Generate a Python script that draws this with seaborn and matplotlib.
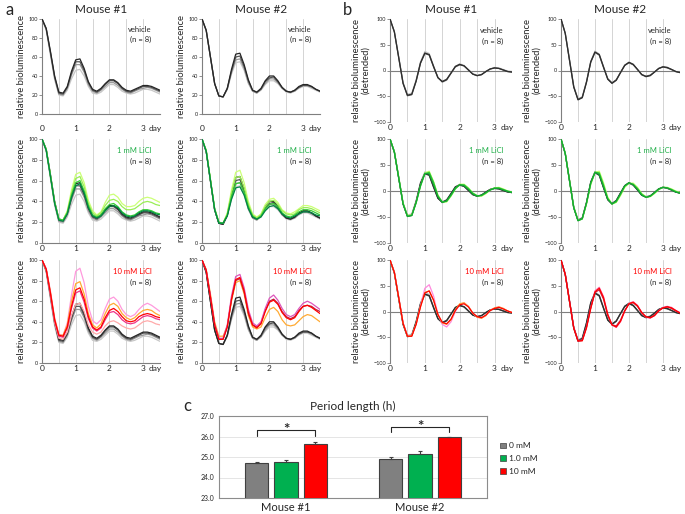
import numpy as np
import pandas as pd
import seaborn as sns
import matplotlib.pyplot as plt
from matplotlib.patches import Patch

# time axis: one sample every 3 h (1/8 day), 0 .. 3.5 days
days = np.arange(29) / 8

# ---- raw bioluminescence (panel a), listed light -> dark ----
m1_veh_raw = [
    [100, 88, 62, 36, 20, 19, 25, 37, 46, 47, 40, 29, 22, 21, 23, 27, 31, 31, 28, 24, 22, 21, 22, 24, 26, 26, 25, 23, 21],
    [100, 89, 64, 38, 21, 20, 27, 41, 52, 52, 44, 31, 24, 22, 25, 29, 33, 33, 30, 26, 23, 22, 24, 26, 27, 28, 27, 25, 23],
    [100, 90, 65, 39, 22, 21, 28, 43, 55, 55, 46, 33, 25, 23, 26, 31, 35, 35, 32, 27, 24, 23, 25, 27, 29, 29, 28, 26, 24],
    [100, 90, 66, 40, 23, 22, 29, 45, 57, 58, 48, 34, 26, 24, 27, 32, 36, 36, 33, 28, 25, 24, 26, 28, 30, 30, 29, 27, 25],
]
m2_veh_raw = [
    [100, 88, 60, 32, 19, 18, 26, 42, 54, 55, 46, 32, 24, 22, 25, 31, 35, 35, 32, 27, 23, 22, 24, 27, 29, 29, 27, 25, 23],
    [100, 88, 60, 32, 19, 18, 26, 44, 57, 58, 48, 33, 24, 22, 26, 32, 37, 37, 33, 27, 24, 23, 24, 28, 30, 30, 28, 26, 24],
    [100, 88, 60, 32, 19, 18, 27, 45, 60, 61, 50, 35, 25, 23, 26, 34, 38, 39, 34, 28, 24, 23, 25, 28, 30, 30, 29, 26, 24],
    [100, 88, 60, 32, 19, 18, 27, 47, 63, 64, 52, 36, 25, 23, 27, 35, 40, 40, 35, 28, 24, 23, 25, 29, 31, 31, 29, 26, 24],
]
m1_li1_raw = [
    [100, 90, 65, 39, 23, 22, 31, 51, 66, 68, 58, 41, 31, 27, 30, 39, 46, 47, 44, 38, 35, 35, 36, 40, 43, 44, 43, 41, 39],
    [100, 90, 65, 39, 23, 22, 30, 48, 62, 64, 54, 38, 29, 26, 29, 36, 41, 42, 40, 35, 32, 32, 33, 36, 39, 40, 39, 37, 36],
    [100, 90, 65, 39, 23, 22, 29, 46, 58, 60, 50, 36, 27, 25, 27, 33, 37, 38, 35, 30, 27, 26, 27, 30, 32, 32, 31, 29, 28],
    [100, 89, 64, 38, 22, 21, 28, 44, 55, 57, 48, 34, 26, 24, 26, 31, 35, 36, 34, 29, 26, 25, 26, 29, 31, 31, 30, 28, 27],
]
m2_li1_raw = [
    [100, 89, 61, 33, 20, 19, 29, 51, 68, 70, 58, 40, 28, 25, 28, 37, 42, 43, 39, 32, 29, 28, 30, 33, 36, 36, 35, 33, 31],
    [100, 89, 61, 33, 20, 19, 28, 48, 63, 64, 53, 37, 27, 24, 27, 35, 40, 41, 37, 31, 28, 27, 28, 32, 34, 34, 33, 31, 29],
    [100, 89, 61, 33, 20, 19, 27, 45, 57, 58, 49, 35, 26, 23, 26, 33, 37, 38, 35, 29, 26, 25, 27, 30, 32, 32, 31, 29, 27],
    [100, 88, 60, 32, 19, 19, 26, 42, 53, 54, 46, 33, 25, 23, 25, 31, 35, 36, 33, 28, 25, 24, 26, 28, 30, 30, 29, 27, 26],
]
m1_li10_raw = [
    [100, 90, 65, 39, 24, 23, 30, 46, 57, 58, 50, 37, 30, 28, 30, 36, 40, 41, 39, 36, 34, 33, 34, 37, 40, 41, 40, 38, 37],
    [100, 92, 70, 44, 28, 27, 39, 66, 89, 92, 78, 55, 41, 38, 42, 53, 62, 64, 60, 52, 47, 45, 47, 52, 56, 58, 56, 53, 50],
    [100, 91, 69, 43, 27, 27, 37, 60, 77, 79, 67, 48, 37, 34, 38, 48, 56, 58, 55, 48, 44, 42, 44, 48, 51, 52, 51, 48, 46],
    [100, 91, 67, 41, 26, 25, 34, 53, 68, 70, 59, 43, 34, 31, 34, 42, 49, 50, 47, 42, 39, 38, 39, 42, 45, 46, 45, 43, 42],
    [100, 91, 68, 42, 27, 26, 35, 55, 71, 73, 62, 45, 35, 32, 35, 44, 51, 53, 50, 45, 41, 40, 41, 45, 47, 48, 47, 45, 44],
]
m2_li10_raw = [
    [100, 91, 67, 40, 26, 26, 36, 60, 78, 80, 67, 46, 35, 33, 35, 44, 52, 54, 50, 42, 37, 36, 37, 41, 45, 47, 46, 43, 40],
    [100, 90, 64, 37, 23, 23, 35, 62, 80, 82, 69, 48, 37, 35, 39, 51, 60, 62, 58, 50, 45, 43, 45, 51, 55, 56, 55, 52, 50],
    [100, 90, 65, 38, 24, 24, 37, 65, 84, 86, 73, 52, 39, 36, 40, 53, 63, 66, 61, 53, 47, 45, 47, 53, 58, 60, 58, 55, 52],
    [100, 90, 64, 37, 23, 23, 35, 62, 81, 83, 70, 49, 37, 34, 38, 50, 59, 61, 57, 49, 44, 42, 44, 50, 55, 56, 54, 51, 48],
]

# ---- detrended bioluminescence (panel b) ----
m1_veh_det = [
    [100, 76, 27, -23, -46, -44, -18, 17, 37, 33, 9, -13, -23, -19, -6, 8, 13, 10, 2, -6, -9, -8, -2, 3, 6, 5, 2, -1, -2],
    [100, 75, 25, -25, -49, -47, -21, 14, 33, 30, 7, -14, -21, -17, -5, 7, 11, 9, 1, -7, -10, -8, -2, 3, 5, 4, 1, -2, -3],
    [100, 75, 25, -25, -48, -46, -20, 15, 34, 31, 8, -14, -22, -18, -5, 8, 12, 9, 1, -7, -10, -8, -2, 3, 5, 4, 1, -2, -3],
]
m2_veh_det = [
    [100, 73, 22, -30, -55, -51, -21, 18, 38, 32, 8, -16, -25, -19, -4, 11, 16, 12, 2, -8, -12, -10, -3, 4, 8, 6, 2, -2, -4],
    [100, 72, 20, -32, -56, -52, -22, 16, 35, 30, 6, -16, -24, -18, -4, 10, 15, 11, 2, -8, -11, -9, -3, 4, 7, 5, 2, -2, -4],
    [100, 72, 20, -32, -57, -53, -23, 17, 36, 31, 7, -17, -25, -19, -4, 10, 16, 12, 2, -8, -12, -10, -3, 4, 7, 6, 2, -2, -4],
]
m1_li1_det = [
    [100, 76, 27, -23, -47, -46, -22, 10, 35, 38, 18, -8, -21, -21, -10, 4, 13, 13, 6, -4, -9, -10, -5, 2, 6, 7, 4, 0, -2],
    [100, 75, 26, -24, -48, -47, -23, 9, 33, 36, 17, -9, -21, -20, -9, 4, 12, 12, 5, -4, -9, -9, -4, 2, 6, 6, 3, 0, -2],
    [100, 75, 25, -25, -49, -47, -22, 11, 34, 33, 12, -11, -22, -19, -7, 6, 12, 10, 3, -6, -10, -8, -3, 2, 5, 5, 2, -1, -3],
]
m2_li1_det = [
    [100, 73, 21, -31, -56, -54, -25, 12, 36, 38, 16, -12, -25, -22, -9, 7, 15, 15, 7, -5, -11, -11, -5, 3, 7, 7, 4, 0, -3],
    [100, 72, 20, -32, -57, -54, -24, 14, 36, 35, 12, -14, -25, -21, -7, 9, 15, 13, 5, -6, -12, -10, -4, 3, 7, 6, 3, -1, -4],
    [100, 72, 20, -32, -57, -53, -23, 16, 36, 32, 8, -16, -25, -19, -5, 10, 16, 12, 3, -8, -12, -10, -3, 4, 7, 6, 2, -2, -4],
]
m1_li10_det = [
    [100, 77, 28, -22, -47, -47, -25, 12, 45, 52, 30, -5, -25, -30, -20, 0, 14, 17, 10, -3, -11, -13, -8, 2, 7, 9, 6, 1, -2],
    [100, 76, 27, -23, -48, -47, -24, 10, 37, 40, 22, -6, -22, -25, -16, 3, 15, 17, 10, -3, -11, -13, -8, 2, 7, 9, 6, 1, -2],
    [100, 76, 27, -23, -48, -48, -25, 9, 36, 40, 22, -6, -21, -24, -15, 2, 13, 15, 9, -3, -10, -12, -7, 2, 6, 8, 5, 1, -2],
]
m2_li10_det = [
    [100, 73, 21, -31, -56, -56, -30, 8, 40, 47, 29, -5, -26, -31, -20, 1, 16, 19, 12, -2, -11, -13, -8, 2, 8, 10, 8, 2, -2],
    [100, 72, 20, -32, -58, -56, -30, 7, 37, 42, 24, -8, -26, -28, -17, 2, 15, 17, 10, -3, -11, -12, -7, 2, 7, 9, 6, 1, -3],
    [100, 72, 20, -32, -57, -57, -32, 6, 38, 45, 27, -6, -26, -30, -19, 1, 15, 18, 11, -2, -10, -12, -8, 1, 7, 9, 7, 2, -3],
]

# ---- period length (panel c) ----
mice = ["Mouse #1", "Mouse #1", "Mouse #1", "Mouse #2", "Mouse #2", "Mouse #2"]
doses = ["0 mM", "1.0 mM", "10 mM", "0 mM", "1.0 mM", "10 mM"]
period_mean = [24.73, 24.78, 25.65, 24.92, 25.15, 25.98]
period_err = [0.02, 0.05, 0.10, 0.08, 0.15, 0.02]
bracket_top = [26.32, 26.46]
bracket_foot = [26.03, 26.20]

# colours
veh_raw_cols = ["#c8c8c8", "#999999", "#555555", "#262626"]
veh_det_cols = ["#c8c8c8", "#555555", "#2e2e2e"]
li1_raw_cols = ["#ccff77", "#99ee55", "#33cc33", "#008844"]
li1_det_cols = ["#bbff66", "#33cc33", "#11aa33"]
m1_li10_raw_cols = ["#ffaaaa", "#ff99dd", "#ffaa33", "#ee3388", "#ff0000"]
m2_li10_raw_cols = ["#ffaa33", "#bb2244", "#dd55bb", "#ff0000"]
m1_li10_det_cols = ["#ff88dd", "#ffaa33", "#ff0000"]
m2_li10_det_cols = ["#ff66aa", "#cc2244", "#ff0000"]
bar_cols = {"0 mM": "#808080", "1.0 mM": "#00b050", "10 mM": "#ff0000"}

sns.set_theme(style="white")
plt.rcParams["font.family"] = ["Lato", "DejaVu Sans"]

W, H = 685, 514
fig = plt.figure(figsize=(W / 100, H / 100), dpi=100)


def px_axes(l, t, r, b):
    return fig.add_axes([l / W, 1 - b / H, (r - l) / W, (b - t) / H])


cols_x = [(42, 160), (202, 320), (390, 512), (561, 680)]
rows_y_raw = [(19, 114), (139, 243), (260, 363)]
rows_y_det = [(19, 122), (139, 243), (260, 363)]

tags = [("vehicle", "#262626"), ("1 mM LiCl", "#22b04a"), ("10 mM LiCl", "#ff0000")]

groups = {
    ("raw", 0): [[(m1_veh_raw, veh_raw_cols)],
                 [(m1_veh_raw, veh_raw_cols), (m1_li1_raw, li1_raw_cols)],
                 [(m1_veh_raw, veh_raw_cols), (m1_li10_raw, m1_li10_raw_cols)]],
    ("raw", 1): [[(m2_veh_raw, veh_raw_cols)],
                 [(m2_veh_raw, veh_raw_cols), (m2_li1_raw, li1_raw_cols)],
                 [(m2_veh_raw, veh_raw_cols), (m2_li10_raw, m2_li10_raw_cols)]],
    ("det", 0): [[(m1_veh_det, veh_det_cols)],
                 [(m1_veh_det, veh_det_cols), (m1_li1_det, li1_det_cols)],
                 [(m1_veh_det, veh_det_cols), (m1_li10_det, m1_li10_det_cols)]],
    ("det", 1): [[(m2_veh_det, veh_det_cols)],
                 [(m2_veh_det, veh_det_cols), (m2_li1_det, li1_det_cols)],
                 [(m2_veh_det, veh_det_cols), (m2_li10_det, m2_li10_det_cols)]],
}

half_days = np.arange(8) / 2
half_labels = ["0", "", "1", "", "2", "", "3", ""]

for ci, (kind, mouse) in enumerate([("raw", 0), ("raw", 1), ("det", 0), ("det", 1)]):
    l, r = cols_x[ci]
    for ri in range(3):
        t, b = (rows_y_raw if kind == "raw" else rows_y_det)[ri]
        ax = px_axes(l, t, r, b)
        for traces, colors in groups[(kind, mouse)][ri]:
            for tr, c in zip(traces, colors):
                sns.lineplot(x=days, y=tr, color=c, lw=0.9, ax=ax, zorder=3)
        ax.set_xlim(0, 3.5)
        if kind == "raw":
            ax.set_ylim(0, 100)
            ax.set_yticks(range(0, 101, 20))
            ax.set_ylabel("relative bioluminescence", fontsize=6.8, labelpad=2)
            ax.spines["bottom"].set_color("#7f7f7f")
        else:
            ax.set_ylim(-100, 100)
            ax.set_yticks([-100, -50, 0, 50, 100])
            ax.axhline(0, color="#7f7f7f", lw=0.8, zorder=2)
            ax.set_ylabel("relative bioluminescence\n(detrended)", fontsize=6.8,
                          labelpad=2, linespacing=1.1)
            ax.spines["bottom"].set_visible(False)
        # grid every half day, labels every day, "day" unit as a minor label
        ax.set_xticks(half_days, half_labels)
        ax.set_xticks([3.35], ["day"], minor=True)
        ax.grid(True, which="major", axis="x", color="#d4d4d4", lw=0.7)
        ax.grid(False, which="major", axis="y")
        xpad = 8 if (kind == "raw" and ri == 0) else 1.5
        ax.tick_params(axis="x", which="both", length=0, labelsize=6, pad=xpad)
        ax.tick_params(axis="y", length=2, width=0.6, labelsize=4, pad=1,
                       color="#7f7f7f", left=True)
        for s in ["top", "right"]:
            ax.spines[s].set_visible(False)
        ax.spines["left"].set_color("#7f7f7f")
        ax.spines["left"].set_linewidth(0.8)
        ax.spines["bottom"].set_linewidth(0.8)
        ax.yaxis.label.set_color("#262626")
        tag, tag_col = tags[ri]
        ax.text(0.93, 0.89, tag, color=tag_col, fontsize=5.5, ha="right",
                va="center", transform=ax.transAxes)
        ax.text(0.93, 0.78, "(n = 8)", color="#262626", fontsize=5.5, ha="right",
                va="center", transform=ax.transAxes)
        if ri == 0:
            ax.set_title(f"Mouse #{mouse + 1}", fontsize=8.5, pad=4)

fig.text(5 / W, 1 - 10 / H, "a", fontsize=12, va="center")
fig.text(343 / W, 1 - 10 / H, "b", fontsize=12, va="center")
fig.text(183 / W, 1 - 406 / H, "c", fontsize=12, va="center")

# ---- panel c ----
axc = px_axes(219, 416, 487, 498)
bar_df = pd.DataFrame({"mouse": mice, "dose": doses, "period": period_mean})
sns.barplot(data=bar_df, x="mouse", y="period", hue="dose", palette=bar_cols,
            width=0.66, gap=0.2, edgecolor="#404040", linewidth=0.8, saturation=1,
            errorbar=None, legend=False, ax=axc, zorder=3)
bars = sorted(axc.patches, key=lambda p: p.get_x())
xs = [p.get_x() + p.get_width() / 2 for p in bars]
axc.errorbar(xs, period_mean, yerr=[np.zeros(6), period_err], fmt="none",
             ecolor="#404040", elinewidth=0.8, capsize=1.5, capthick=0.8, zorder=4)
for k in range(2):
    x0, x1 = xs[3 * k], xs[3 * k + 2]
    axc.plot([x0, x0, x1, x1], [bracket_foot[k], bracket_top[k], bracket_top[k], bracket_foot[k]],
             color="#262626", lw=0.8, zorder=4)
    axc.text((x0 + x1) / 2, bracket_top[k] + 0.02, "*", ha="center", va="center",
             fontsize=11, fontweight="bold", color="#262626")
axc.set_xlim(-0.5, 1.5)
axc.set_ylim(23, 27)
axc.set_yticks([23, 24, 25, 26, 27], ["23.0", "24.0", "25.0", "26.0", "27.0"])
axc.grid(True, axis="y", color="#e0e0e0", lw=0.6, zorder=0)
axc.set_xlabel("")
axc.set_ylabel("")
axc.tick_params(axis="y", length=0, labelsize=5, pad=3)
axc.tick_params(axis="x", length=0, labelsize=8, pad=3)
for s in axc.spines.values():
    s.set_color("#8c8c8c")
    s.set_linewidth(0.8)
axc.set_title("Period length (h)", fontsize=8.5, pad=4)

handles = [Patch(facecolor=c, edgecolor="#404040", lw=0.5, label=d) for d, c in bar_cols.items()]
fig.legend(handles=handles, loc="upper left", bbox_to_anchor=(497 / W, 1 - 439 / H),
           frameon=False, fontsize=6, handlelength=0.7, handleheight=0.7,
           handletextpad=0.3, labelspacing=0.7, borderaxespad=0)

fig.savefig("out.png", dpi=100)
